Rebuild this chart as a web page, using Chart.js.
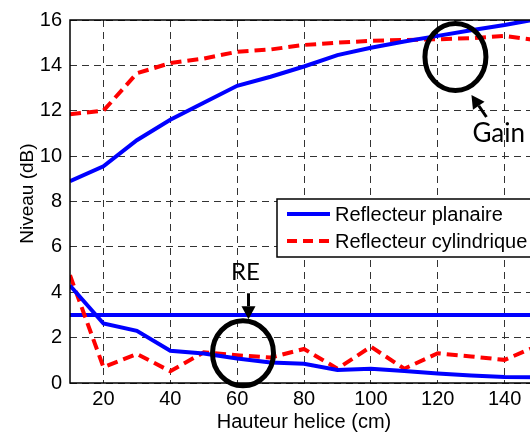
<!DOCTYPE html>
<html>
<head>
<meta charset="utf-8">
<script src="https://cdn.jsdelivr.net/npm/chart.js@4.4.1/dist/chart.umd.min.js"></script>
<style>
  html, body { margin: 0; padding: 0; background: #fff; overflow: hidden; }
  #wrap { width: 530px; height: 434px; overflow: hidden; }
</style>
</head>
<body>
<div id="wrap"><canvas id="niveau" width="545" height="434"></canvas></div>
<script>
// hauteur de l'helice (cm)
var hauteurs = [10, 20, 30, 40, 50, 60, 70, 80, 90, 100, 110, 120, 130, 140, 150];
var xTicks = [20, 40, 60, 80, 100, 120, 140];
var yTicks = [0, 2, 4, 6, 8, 10, 12, 14, 16];

// gain (dB)
var gainPlanaire = [8.9, 9.55, 10.7, 11.6, 12.35, 13.1, 13.5, 13.95, 14.45, 14.78, 15.05, 15.3, 15.55, 15.78, 16.05];
var gainCylindrique = [11.85, 12.0, 13.65, 14.1, 14.3, 14.6, 14.7, 14.9, 15.0, 15.08, 15.12, 15.15, 15.2, 15.3, 15.1];
// RE (dB)
var rePlanaire = [4.3, 2.62, 2.3, 1.42, 1.3, 1.08, 0.9, 0.85, 0.57, 0.63, 0.53, 0.42, 0.33, 0.26, 0.25];
var reCylindrique = [4.75, 0.7, 1.28, 0.52, 1.35, 1.22, 1.12, 1.5, 0.63, 1.6, 0.63, 1.31, 1.17, 1.02, 1.65];
var seuilRE = [3, 3, 3, 3, 3, 3, 3, 3, 3, 3, 3, 3, 3, 3, 3];

var labels = ['Reflecteur planaire', 'Reflecteur cylindrique'];

function pts(arr) {
    return arr.map(function (v, i) { return { x: hauteurs[i], y: v }; });
}

var bleu = 'rgb(0, 0, 255)';
var rouge = 'rgb(255, 0, 0)';
var tiret = [11, 6];
var police = { family: '"Liberation Sans", Arial, sans-serif', size: 20 };

function serie(label, data, color, dash) {
    return {
        label: label,
        data: pts(data),
        borderColor: color,
        backgroundColor: color,
        borderWidth: 4,
        borderDash: dash || [],
        pointRadius: 0,
        tension: 0,
        fill: false
    };
}

// cadre noir autour de la zone de trace
var cadre = {
    id: 'cadre',
    afterDatasetsDraw: function (chart) {
        var a = chart.chartArea, c = chart.ctx;
        c.save();
        c.strokeStyle = '#000';
        c.lineWidth = 1.5;
        c.setLineDash([]);
        c.strokeRect(a.left, a.top, a.right - a.left, a.bottom - a.top);
        c.restore();
    }
};

// legende dans le graphe
var legende = {
    id: 'legende',
    afterDraw: function (chart) {
        var c = chart.ctx, a = chart.chartArea;
        var x0 = a.left + 207, y0 = 199, h = 58;
        c.save();
        c.fillStyle = '#fff';
        c.fillRect(x0, y0, 300, h);
        c.strokeStyle = '#000';
        c.lineWidth = 1.5;
        c.strokeRect(x0, y0, 300, h);
        [0, 1].forEach(function (i) {
            var ds = chart.data.datasets[i];
            var y = y0 + 15 + i * 27;
            c.strokeStyle = ds.borderColor;
            c.lineWidth = 4;
            c.setLineDash(i === 1 ? [10, 6] : []);
            c.beginPath();
            c.moveTo(x0 + 10, y);
            c.lineTo(x0 + 53, y);
            c.stroke();
            c.setLineDash([]);
            c.fillStyle = '#000';
            c.font = '20px "Liberation Sans", Arial, sans-serif';
            c.textBaseline = 'middle';
            c.fillText(ds.label, x0 + 58, y + 1);
        });
        c.restore();
    }
};

// annotations : cercles, fleches, textes
function fleche(c, x1, y1, x2, y2) {
    var ang = Math.atan2(y2 - y1, x2 - x1), L = 13, W = 7;
    var bx = x2 - L * Math.cos(ang), by = y2 - L * Math.sin(ang);
    c.beginPath();
    c.moveTo(x1, y1);
    c.lineTo(bx, by);
    c.stroke();
    c.beginPath();
    c.moveTo(x2, y2);
    c.lineTo(bx + W * Math.sin(ang), by - W * Math.cos(ang));
    c.lineTo(bx - W * Math.sin(ang), by + W * Math.cos(ang));
    c.closePath();
    c.fill();
}

var notes = {
    id: 'notes',
    afterDraw: function (chart) {
        var c = chart.ctx, sx = chart.scales.x, sy = chart.scales.y;
        c.save();
        c.strokeStyle = '#000';
        c.fillStyle = '#000';
        c.setLineDash([]);
        // Gain
        var gx = sx.getPixelForValue(125.3), gy = sy.getPixelForValue(14.37);
        c.lineWidth = 5;
        c.beginPath();
        c.ellipse(gx, gy, 30.5, 33.5, 0, 0, Math.PI * 2);
        c.stroke();
        c.lineWidth = 3;
        fleche(c, gx + 31, gy + 60, gx + 16, gy + 38);
        c.font = '26px Lato, "Open Sans", sans-serif';
        c.textBaseline = 'alphabetic';
        c.fillText('Gain', gx + 17, gy + 85);
        // RE
        var rx = sx.getPixelForValue(61.75), ry = sy.getPixelForValue(1.31);
        c.lineWidth = 5;
        c.beginPath();
        c.ellipse(rx, ry, 30.5, 32.5, 0, 0, Math.PI * 2);
        c.stroke();
        c.lineWidth = 3;
        fleche(c, rx + 5.5, ry - 60, rx + 5.5, ry - 34);
        c.font = '24px Lato, "Open Sans", sans-serif';
        c.fillText('RE', rx - 12, ry - 73);
        c.restore();
    }
};

var ctx = document.getElementById('niveau').getContext('2d');
var myChart = new Chart(ctx, {
    type: 'line',
    data: {
        datasets: [
            serie(labels[0], gainPlanaire, bleu),
            serie(labels[1], gainCylindrique, rouge, tiret),
            serie(labels[0], rePlanaire, bleu),
            serie(labels[1], reCylindrique, rouge, tiret),
            serie('seuil', seuilRE, bleu)
        ]
    },
    options: {
        responsive: false,
        animation: false,
        layout: { padding: { left: 0, right: 7, top: 16, bottom: 0 } },
        plugins: {
            legend: { display: false },
            tooltip: { enabled: false }
        },
        scales: {
            x: {
                type: 'linear',
                min: 10,
                max: 150,
                afterBuildTicks: function (a) {
                    a.ticks = xTicks.map(function (v) { return { value: v }; });
                },
                afterFit: function (a) { a.height = 51; },
                ticks: { font: police, color: '#000', padding: 4, maxRotation: 0, autoSkip: false },
                grid: { color: '#333', lineWidth: 1, drawTicks: false },
                border: { display: false, dash: [7, 5] },
                title: { display: true, text: 'Hauteur helice (cm)', font: police, color: '#000', padding: { top: 0, bottom: 0 } }
            },
            y: {
                min: 0,
                max: 16,
                afterBuildTicks: function (a) {
                    a.ticks = yTicks.map(function (v) { return { value: v }; });
                },
                afterFit: function (a) { a.width = 70; },
                ticks: { font: police, color: '#000', padding: 8 },
                grid: { color: '#333', lineWidth: 1, drawTicks: false },
                border: { display: false, dash: [7, 5] },
                title: { display: true, text: '   Niveau (dB)', font: { family: police.family, size: 19 }, color: '#000', padding: { top: 16, bottom: 0 } }
            }
        }
    },
    plugins: [cadre, legende, notes]
});
</script>
</body>
</html>
